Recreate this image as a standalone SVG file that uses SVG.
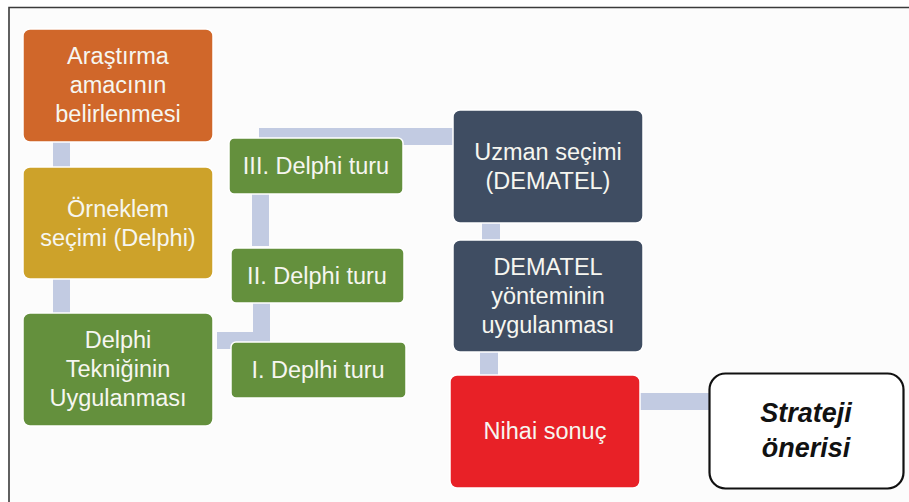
<svg xmlns="http://www.w3.org/2000/svg" width="909" height="502" viewBox="0 0 909 502">
<style>
.bx{stroke:#ffffff;stroke-width:1.5}
.t{font-family:"Liberation Sans",Arial,sans-serif;font-size:23.5px;fill:#f6f6f0;text-anchor:middle}
.s{font-family:"Liberation Sans",Arial,sans-serif;font-size:27px;font-weight:bold;font-style:italic;fill:#111;text-anchor:middle}
.c{fill:#c2cbe2}
</style>
<rect x="0" y="0" width="909" height="502" fill="#ffffff"/>
<rect x="9" y="7.5" width="910" height="500" fill="#fcfcfc"/>
<path d="M9 502 V7.5 H909" fill="none" stroke="#3a3a3a" stroke-width="1.6"/>
<g id="connectors">
<rect class="c" x="53" y="140" width="17" height="28"/>
<rect class="c" x="53" y="277" width="17" height="36"/>
<rect class="c" x="252" y="192" width="17" height="54"/>
<rect class="c" x="253" y="301" width="17" height="38"/>
<rect class="c" x="217" y="332" width="53" height="17"/>
<rect class="c" x="259" y="128" width="195" height="17"/>
<rect class="c" x="482" y="221" width="18" height="21"/>
<rect class="c" x="480" y="350" width="18" height="27"/>
<rect class="c" x="638" y="393" width="73" height="17"/>
</g>
<g id="n1"><rect class="bx" x="23" y="29" width="190" height="113" rx="7" fill="#d0672a"/>
<text class="t" x="118" y="64">Araştırma</text><text class="t" x="118" y="93">amacının</text><text class="t" x="118" y="122">belirlenmesi</text></g>
<g id="n2"><rect class="bx" x="23" y="167" width="190" height="112" rx="7" fill="#cda22a"/>
<text class="t" x="118" y="217">Örneklem</text><text class="t" x="118" y="246">seçimi (Delphi)</text></g>
<g id="n3"><rect class="bx" x="23" y="313" width="190" height="113" rx="7" fill="#64903d"/>
<text class="t" x="118" y="348">Delphi</text><text class="t" x="118" y="377">Tekniğinin</text><text class="t" x="118" y="406">Uygulanması</text></g>
<g id="n4"><rect class="bx" x="229" y="138" width="174" height="56" rx="5" fill="#64903d"/>
<text class="t" x="316" y="174">III. Delphi turu</text></g>
<g id="n5"><rect class="bx" x="231" y="248" width="173" height="55" rx="5" fill="#64903d"/>
<text class="t" x="317" y="284">II. Delphi turu</text></g>
<g id="n6"><rect class="bx" x="231" y="342" width="175" height="56" rx="5" fill="#64903d"/>
<text class="t" x="318" y="378">I. Deplhi turu</text></g>
<g id="n7"><rect class="bx" x="453" y="110" width="190" height="113" rx="7" fill="#3f4d62"/>
<text class="t" x="548" y="160">Uzman seçimi</text><text class="t" x="548" y="189">(DEMATEL)</text></g>
<g id="n8"><rect class="bx" x="453" y="240" width="190" height="112" rx="7" fill="#3f4d62"/>
<text class="t" x="548" y="275">DEMATEL</text><text class="t" x="548" y="304">yönteminin</text><text class="t" x="548" y="333">uygulanması</text></g>
<g id="n9"><rect class="bx" x="450" y="375" width="190" height="113" rx="7" fill="#e82127"/>
<text class="t" x="545" y="439">Nihai sonuç</text></g>
<g id="n10"><rect x="709.5" y="373.5" width="194" height="115" rx="16" fill="#ffffff" stroke="#111" stroke-width="2.2"/>
<text class="s" x="806" y="422">Strateji</text><text class="s" x="806" y="457">önerisi</text></g>
</svg>
